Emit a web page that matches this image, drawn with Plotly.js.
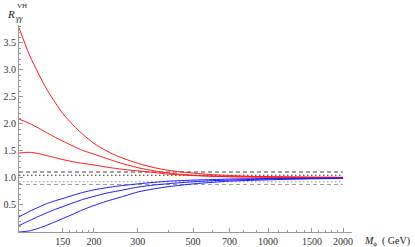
<!DOCTYPE html>
<html>
<head>
<meta charset="utf-8">
<script src="https://cdn.plot.ly/plotly-3.0.1.min.js"></script>
<style>html,body{margin:0;padding:0;background:#fff;}#chart{width:415px;height:247px;}</style>
</head>
<body>
<div id="chart"></div>
<script>
// Higgs-like scalar mass M_phi (GeV)
const masses = [100,110,120,130,140,150,165,180,200,225,250,300,350,400,500,600,700,850,1000,1250,1500,2000];
// red curves (enhanced)
const red1 = [3.78,3.28,2.92,2.62,2.39,2.19,1.98,1.81,1.64,1.50,1.40,1.27,1.19,1.14,1.09,1.06,1.045,1.03,1.025,1.02,1.015,1.01];
const red2 = [2.09,2.01,1.92,1.83,1.75,1.68,1.59,1.51,1.44,1.36,1.29,1.19,1.13,1.09,1.05,1.035,1.025,1.02,1.015,1.012,1.01,1.01];
const red3 = [1.46,1.475,1.45,1.41,1.375,1.34,1.30,1.27,1.24,1.20,1.17,1.13,1.10,1.07,1.045,1.03,1.022,1.017,1.014,1.011,1.01,1.01];
// blue curves (suppressed)
const blue1 = [0.28,0.38,0.46,0.53,0.58,0.62,0.68,0.73,0.78,0.82,0.85,0.89,0.92,0.94,0.96,0.97,0.98,0.985,0.99,0.993,0.995,0.997];
const blue2 = [0.12,0.21,0.29,0.36,0.42,0.47,0.54,0.60,0.66,0.72,0.76,0.83,0.87,0.895,0.93,0.95,0.96,0.972,0.98,0.986,0.99,0.995];
const blue3 = [0.0,0.02,0.07,0.13,0.19,0.25,0.33,0.41,0.49,0.57,0.63,0.74,0.80,0.84,0.89,0.92,0.94,0.955,0.965,0.977,0.984,0.99];
// horizontal reference levels
const refLevels = [1.11, 1.05, 0.93, 0.88];
const refColors = ['#444','#333','#999','#999'];
const refDash = ['4px,3px','1.5px,2.5px','1.5px,2.5px','4px,3px'];
// tick labels
const xTickVals = [150,200,300,500,700,1000,1500,2000];
const xMinorVals = [160,170,180,190,400,600,800,900,1100,1200,1300,1400,1600,1700,1800,1900];
const yTickVals = [0.5,1.0,1.5,2.0,2.5,3.0,3.5];

const traces = [];
const xEnds = [masses[0], masses[masses.length-1]];
refLevels.forEach((v,i)=>{
  traces.push({x:xEnds, y:[v,v], mode:'lines', line:{color:refColors[i], width:1, dash:refDash[i]}, hoverinfo:'skip'});
});
[red1,red2,red3].forEach(s=>traces.push({x:masses,y:s,mode:'lines',line:{color:'#ff1a1a',width:1,shape:'spline',smoothing:0.8}}));
[blue1,blue2,blue3].forEach(s=>traces.push({x:masses,y:s,mode:'lines',line:{color:'#1a1aff',width:1,shape:'spline',smoothing:0.8}}));

const W=415,H=247,L=19,R=63,T=25,B=15;
const pw=W-L-R, ph=H-T-B;
const px=(x)=>(x-L)/pw, py=(y)=>(H-B-y)/ph;
const serif='Liberation Serif';

const layout = {
  width:W, height:H,
  margin:{l:L,r:R,t:T,b:B,pad:0},
  paper_bgcolor:'#fff', plot_bgcolor:'#fff',
  showlegend:false,
  font:{family:serif,size:10,color:'#333'},
  xaxis:{type:'log', range:[2,3.337], showgrid:false, zeroline:false,
    showline:true, linecolor:'#999', linewidth:1,
    ticks:'inside', ticklen:4, tickcolor:'#999',
    tickvals:xTickVals, ticktext:xTickVals.map(String),
    minor:{tickvals:xMinorVals, ticks:'inside', ticklen:2, tickcolor:'#999'},
    tickfont:{family:serif,size:10,color:'#333'}, automargin:false},
  yaxis:{range:[0,3.83], showgrid:false, zeroline:false,
    showline:true, linecolor:'#999', linewidth:1,
    ticks:'inside', ticklen:4, tickcolor:'#999',
    tickvals:yTickVals, ticktext:yTickVals.map(v=>v.toFixed(1)),
    minor:{dtick:0.1, tick0:0, ticks:'inside', ticklen:2, tickcolor:'#999'},
    tickfont:{family:serif,size:10,color:'#333'}, automargin:false},
  annotations:[
    {xref:'paper',yref:'paper',x:px(11),y:py(14),text:'<i>R</i>',showarrow:false,xanchor:'center',yanchor:'middle',font:{family:serif,size:11,color:'#222'}},
    {xref:'paper',yref:'paper',x:px(19),y:py(18),text:'<i>γγ</i>',showarrow:false,xanchor:'center',yanchor:'middle',font:{family:serif,size:8,color:'#222'}},
    {xref:'paper',yref:'paper',x:px(22),y:py(6),text:'VH',showarrow:false,xanchor:'center',yanchor:'middle',font:{family:serif,size:7,color:'#222'}},
    {xref:'paper',yref:'paper',x:px(362),y:py(241),text:'<i>M</i><sub>ϕ</sub>  ( GeV)',showarrow:false,xanchor:'left',yanchor:'middle',font:{family:serif,size:10,color:'#222'}}
  ]
};
Plotly.newPlot('chart', traces, layout, {staticPlot:true, displayModeBar:false});
</script>
</body>
</html>
